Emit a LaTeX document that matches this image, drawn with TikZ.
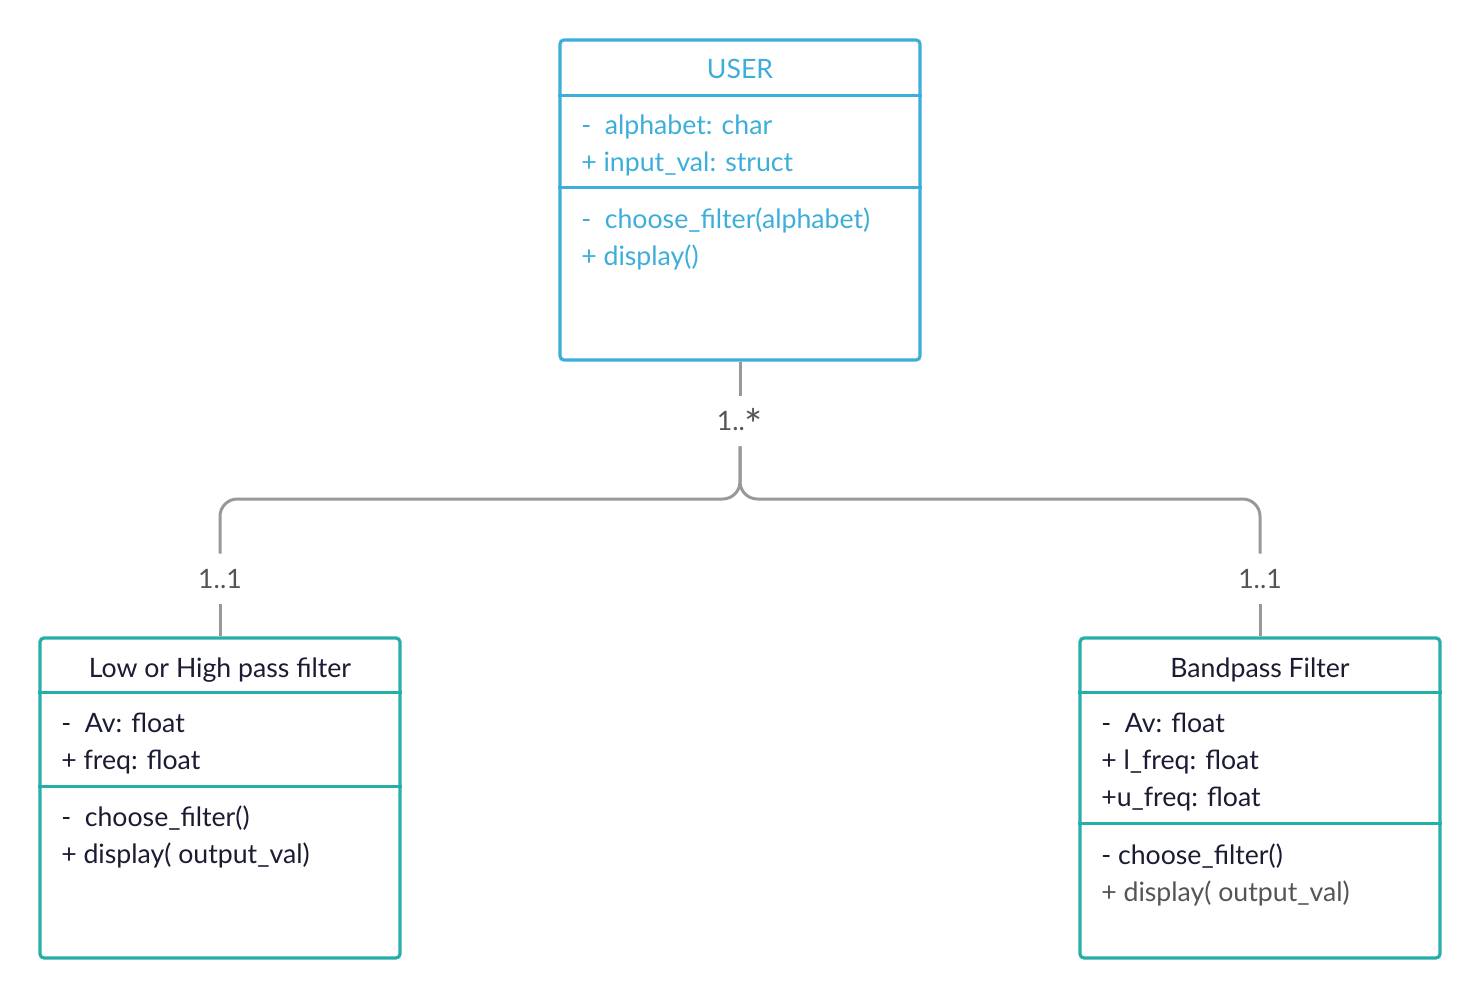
\documentclass[tikz,border=0pt]{standalone}
\usepackage{fontspec}
\setmainfont{Lato}
\usetikzlibrary{calc}
\definecolor{userblue}{HTML}{3DAEDA}
\definecolor{filterteal}{HTML}{26AFA9}
\definecolor{membernavy}{HTML}{1B1B33}
\definecolor{conngray}{HTML}{999999}
\definecolor{labelgray}{HTML}{555555}
\newcommand{\umlfont}{\fontsize{20pt}{24pt}\selectfont}
\begin{document}
\begin{tikzpicture}[x=0.75pt, y=-0.75pt,
	umlbox/.style={draw=#1, line width=2.4pt, rounded corners=3pt, minimum width=270pt, minimum height=240pt, inner sep=0pt},
	divider/.style={draw=#1, line width=2.4pt},
	member/.style={anchor=base west, inner sep=0pt, font=\umlfont},
	title/.style={anchor=base, inner sep=0pt, font=\umlfont},
	conn/.style={draw=conngray, line width=2.25pt, rounded corners=13pt},
	mult/.style={inner sep=0pt, minimum height=37.5pt, text=labelgray, font=\umlfont}]
	\useasboundingbox (0,0) rectangle (1480,998);
	\node[umlbox=userblue] (user) at (740,200) {};
	\draw[divider=userblue] ($(user.north west)+(0,57)$) -- ($(user.north east)+(0,57)$);
	\draw[divider=userblue] ($(user.north west)+(0,149)$) -- ($(user.north east)+(0,149)$);
	\node[title, text=userblue] (usertitle) at (740,79) {USER};
	\node[member, text=userblue] (userattra) at (581,135) {-\ \ alphabet: char};
	\node[member, text=userblue] (userattrb) at (581,172) {+ input\_val: struct};
	\node[member, text=userblue] (usermetha) at (581,229) {-\ \ choose\_filter(alphabet)};
	\node[member, text=userblue] (usermethb) at (581,266) {+ display()};

	\node[umlbox=filterteal] (lowf) at (220,798) {};
	\draw[divider=filterteal] ($(lowf.north west)+(0,56)$) -- ($(lowf.north east)+(0,56)$);
	\draw[divider=filterteal] ($(lowf.north west)+(0,150)$) -- ($(lowf.north east)+(0,150)$);
	\node[title, text=membernavy] (lowftitle) at (220,677) {Low or High pass filter};
	\node[member, text=membernavy] (lowfattra) at (61,732) {-\ \ Av: float};
	\node[member, text=membernavy] (lowfattrb) at (61,769) {+ freq: float};
	\node[member, text=membernavy] (lowfmetha) at (61,826) {-\ \ choose\_filter()};
	\node[member, text=membernavy] (lowfmethb) at (61,863) {+ display( output\_val)};

	\node[umlbox=filterteal] (bandf) at (1260,798) {};
	\draw[divider=filterteal] ($(bandf.north west)+(0,56)$) -- ($(bandf.north east)+(0,56)$);
	\draw[divider=filterteal] ($(bandf.north west)+(0,187)$) -- ($(bandf.north east)+(0,187)$);
	\node[title, text=membernavy] (bandftitle) at (1260,677) {Bandpass Filter};
	\node[member, text=membernavy] (bandfattra) at (1101,732) {-\ \ Av: float};
	\node[member, text=membernavy] (bandfattrb) at (1101,769) {+ l\_freq: float};
	\node[member, text=membernavy] (bandfattrc) at (1101,806) {+u\_freq: float};
	\node[member, text=membernavy] (bandfmetha) at (1101,864) {- choose\_filter()};
	\node[member, text=labelgray] (bandfmethb) at (1101,901) {+ display( output\_val)};

	\node[mult] (multuser) at (740,421) {1..\smash{\raisebox{-0.38em}{\scalebox{1.6}{*}}}};
	\node[mult] (multlow) at (220,579) {1..1};
	\node[mult] (multband) at (1260,579) {1..1};
	\coordinate (split) at (740,499);
	\draw[conn] (user.south) -- (multuser.north);
	\draw[conn] (multuser.south) -- (split) -| (multlow.north);
	\draw[conn] (multuser.south) -- (split) -| (multband.north);
	\draw[conn] (multlow.south) -- (lowf.north);
	\draw[conn] (multband.south) -- (bandf.north);
\end{tikzpicture}
\end{document}
